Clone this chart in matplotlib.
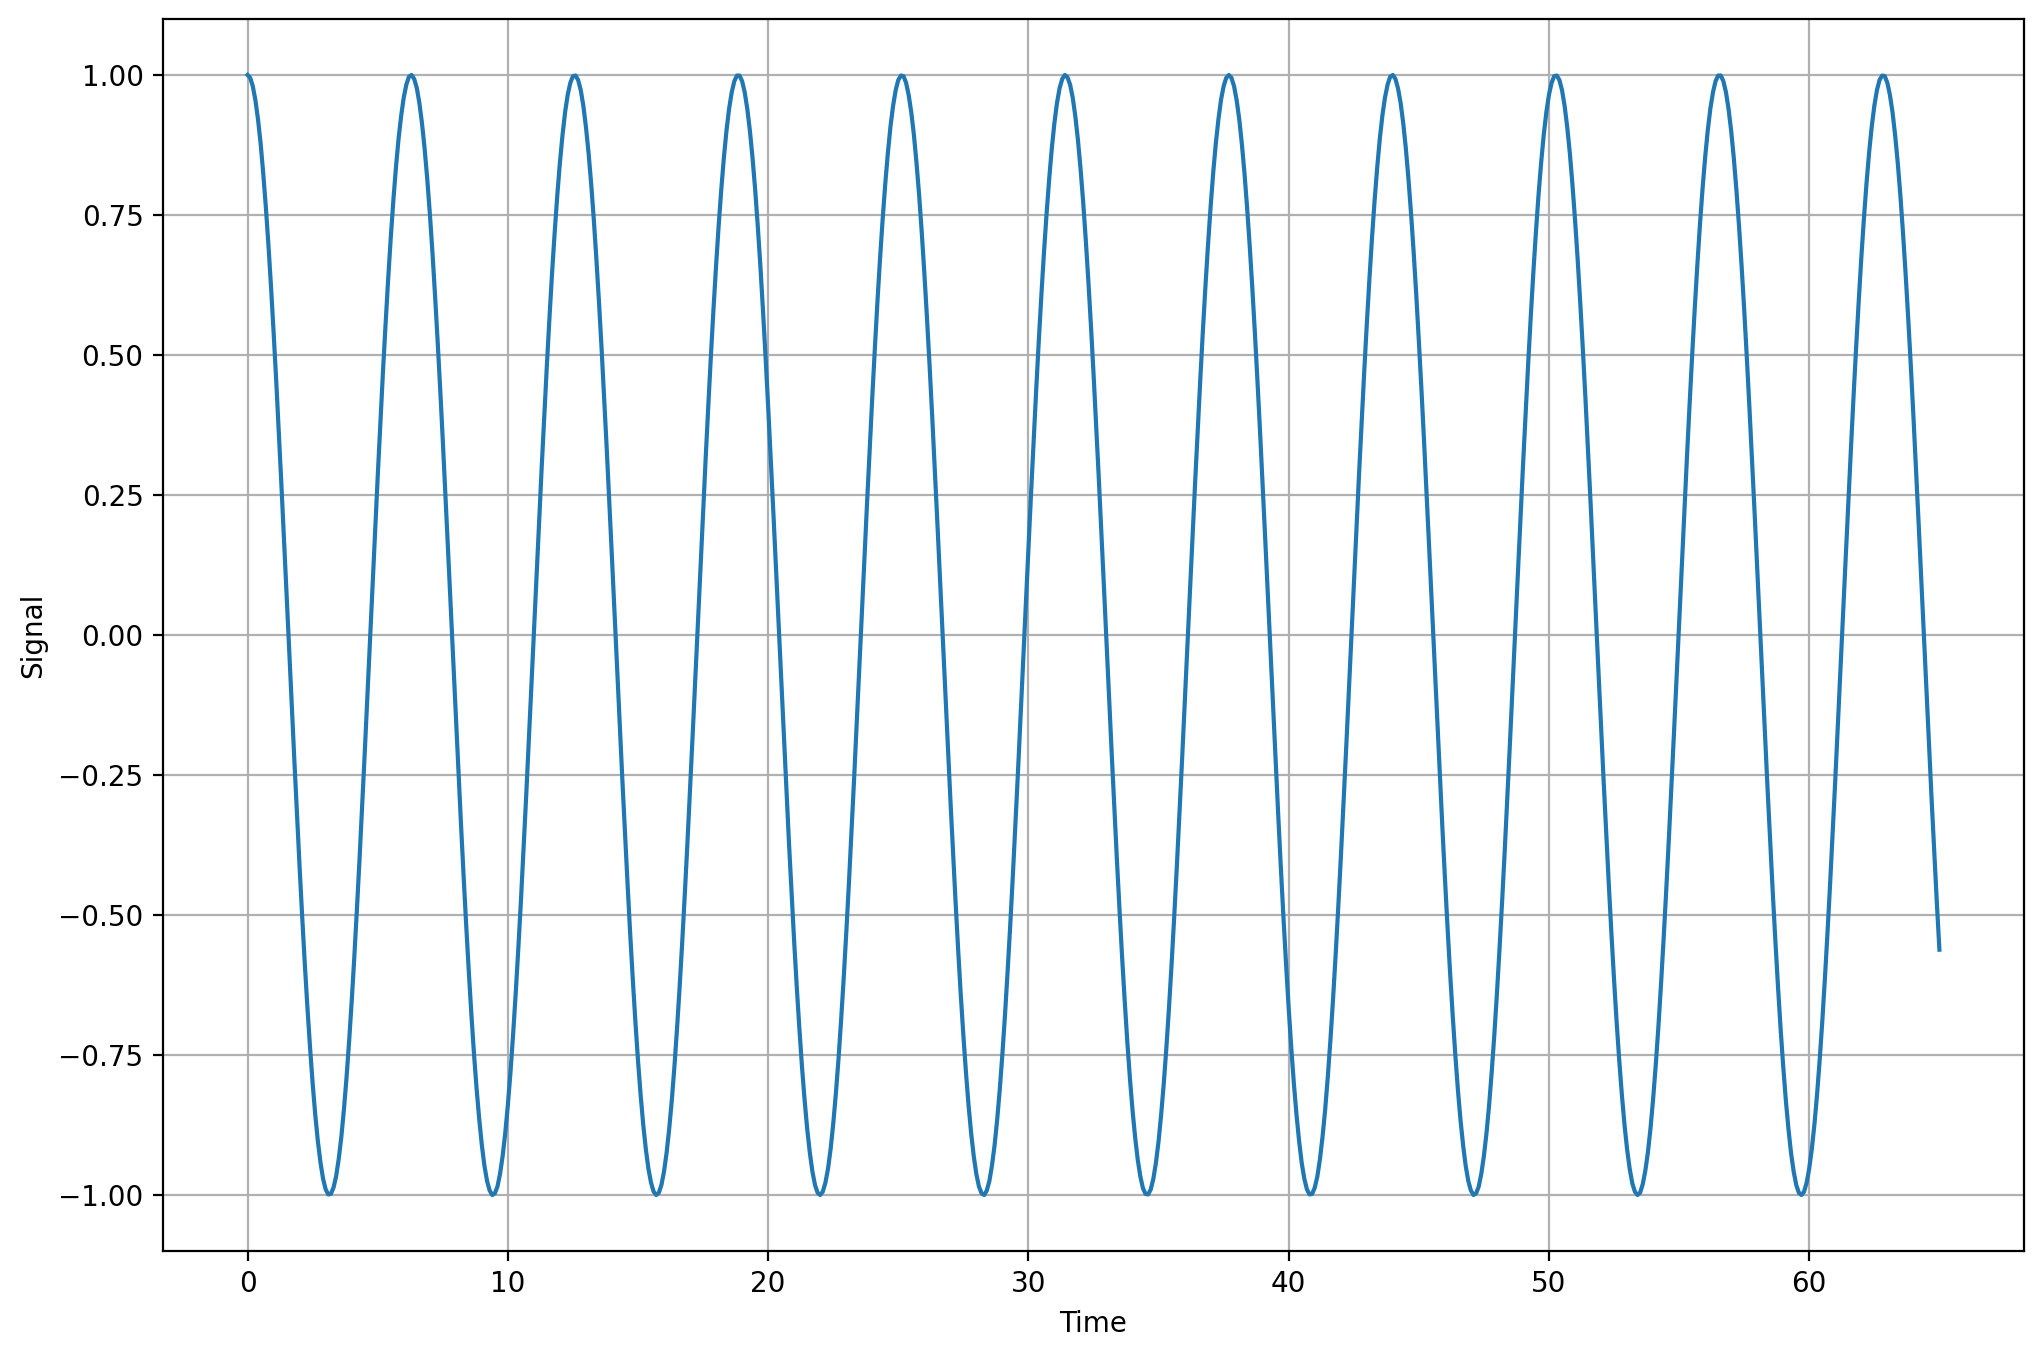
import numpy as np
import matplotlib
matplotlib.use("Agg")
import matplotlib.pyplot as plt

# Time axis: samples every 0.1 from 0 to 65
time_values = np.round(np.arange(0, 65.0001, 0.1), 1)

# Signal values (one per time sample)
signal_values = [
    1.000, 0.995, 0.980, 0.955, 0.921, 0.878, 0.825, 0.765, 0.697, 0.622, 0.540, 0.454, 0.362, 0.267, 0.170, 0.071, -0.029, -0.129, -0.227, -0.323,
    -0.416, -0.505, -0.589, -0.666, -0.737, -0.801, -0.857, -0.904, -0.942, -0.971, -0.990, -0.999, -0.998, -0.987, -0.967, -0.936, -0.897, -0.848, -0.791, -0.726,
    -0.654, -0.575, -0.490, -0.401, -0.307, -0.211, -0.112, -0.012, 0.087, 0.187, 0.284, 0.378, 0.469, 0.554, 0.635, 0.709, 0.776, 0.835, 0.886, 0.927,
    0.960, 0.983, 0.997, 1.000, 0.993, 0.977, 0.950, 0.914, 0.869, 0.816, 0.754, 0.685, 0.608, 0.526, 0.439, 0.347, 0.251, 0.153, 0.054, -0.046,
    -0.146, -0.244, -0.339, -0.431, -0.519, -0.602, -0.679, -0.749, -0.811, -0.865, -0.911, -0.948, -0.975, -0.992, -1.000, -0.997, -0.985, -0.962, -0.930, -0.889,
    -0.839, -0.781, -0.714, -0.641, -0.561, -0.476, -0.385, -0.291, -0.194, -0.095, 0.004, 0.104, 0.203, 0.300, 0.393, 0.483, 0.568, 0.648, 0.720, 0.786,
    0.844, 0.893, 0.934, 0.965, 0.986, 0.998, 0.999, 0.991, 0.973, 0.945, 0.907, 0.861, 0.806, 0.743, 0.672, 0.595, 0.512, 0.423, 0.331, 0.235,
    0.137, 0.037, -0.063, -0.162, -0.260, -0.355, -0.446, -0.534, -0.615, -0.691, -0.760, -0.821, -0.874, -0.918, -0.953, -0.978, -0.994, -1.000, -0.996, -0.982,
    -0.958, -0.924, -0.881, -0.830, -0.770, -0.702, -0.628, -0.547, -0.461, -0.370, -0.275, -0.178, -0.079, 0.021, 0.121, 0.219, 0.316, 0.409, 0.498, 0.582,
    0.660, 0.732, 0.796, 0.853, 0.901, 0.940, 0.969, 0.989, 0.999, 0.999, 0.989, 0.969, 0.939, 0.900, 0.852, 0.796, 0.731, 0.660, 0.581, 0.497,
    0.408, 0.315, 0.219, 0.120, 0.020, -0.080, -0.179, -0.276, -0.371, -0.461, -0.548, -0.629, -0.703, -0.771, -0.830, -0.882, -0.924, -0.958, -0.982, -0.996,
    -1.000, -0.994, -0.978, -0.953, -0.918, -0.873, -0.820, -0.759, -0.690, -0.615, -0.533, -0.446, -0.354, -0.259, -0.161, -0.062, 0.038, 0.138, 0.236, 0.332,
    0.424, 0.512, 0.596, 0.673, 0.743, 0.806, 0.861, 0.908, 0.945, 0.973, 0.991, 0.999, 0.998, 0.986, 0.964, 0.933, 0.893, 0.843, 0.786, 0.720,
    0.647, 0.568, 0.483, 0.393, 0.299, 0.202, 0.103, 0.004, -0.096, -0.195, -0.292, -0.386, -0.476, -0.562, -0.642, -0.715, -0.781, -0.840, -0.890, -0.931,
    -0.963, -0.985, -0.997, -1.000, -0.992, -0.975, -0.947, -0.911, -0.865, -0.811, -0.748, -0.678, -0.601, -0.519, -0.431, -0.338, -0.243, -0.145, -0.045, 0.055,
    0.154, 0.252, 0.347, 0.439, 0.527, 0.609, 0.685, 0.754, 0.816, 0.870, 0.915, 0.951, 0.977, 0.993, 1.000, 0.996, 0.983, 0.960, 0.927, 0.885,
    0.834, 0.775, 0.708, 0.634, 0.554, 0.468, 0.377, 0.283, 0.186, 0.087, -0.013, -0.113, -0.212, -0.308, -0.402, -0.491, -0.576, -0.654, -0.727, -0.792,
    -0.849, -0.897, -0.937, -0.967, -0.988, -0.998, -0.999, -0.990, -0.971, -0.942, -0.904, -0.856, -0.801, -0.737, -0.666, -0.588, -0.504, -0.415, -0.322, -0.226,
    -0.128, -0.028, 0.072, 0.171, 0.268, 0.363, 0.454, 0.541, 0.622, 0.697, 0.765, 0.826, 0.878, 0.921, 0.956, 0.980, 0.995, 1.000, 0.995, 0.980,
    0.955, 0.921, 0.877, 0.825, 0.764, 0.696, 0.621, 0.540, 0.453, 0.362, 0.267, 0.169, 0.070, -0.030, -0.130, -0.228, -0.324, -0.417, -0.506, -0.589,
    -0.667, -0.738, -0.802, -0.857, -0.904, -0.943, -0.971, -0.990, -0.999, -0.998, -0.987, -0.967, -0.936, -0.896, -0.848, -0.790, -0.725, -0.653, -0.574, -0.489,
    -0.400, -0.306, -0.210, -0.111, -0.012, 0.088, 0.187, 0.285, 0.379, 0.469, 0.555, 0.635, 0.709, 0.776, 0.835, 0.886, 0.928, 0.960, 0.983, 0.997,
    1.000, 0.993, 0.976, 0.950, 0.914, 0.869, 0.815, 0.753, 0.684, 0.608, 0.525, 0.438, 0.346, 0.250, 0.152, 0.053, -0.047, -0.146, -0.244, -0.340,
    -0.432, -0.520, -0.603, -0.679, -0.749, -0.812, -0.866, -0.911, -0.948, -0.975, -0.992, -1.000, -0.997, -0.985, -0.962, -0.930, -0.889, -0.839, -0.780, -0.714,
    -0.640, -0.560, -0.475, -0.385, -0.290, -0.193, -0.095, 0.005, 0.105, 0.204, 0.301, 0.394, 0.484, 0.569, 0.648, 0.721, 0.787, 0.844, 0.894, 0.934,
    0.965, 0.986, 0.998, 0.999, 0.991, 0.973, 0.945, 0.907, 0.861, 0.805, 0.742, 0.672, 0.594, 0.511, 0.423, 0.330, 0.234, 0.136, 0.036, -0.064,
    -0.163, -0.261, -0.356, -0.447, -0.534, -0.616, -0.692, -0.760, -0.821, -0.874, -0.918, -0.953, -0.979, -0.994, -1.000, -0.996, -0.981, -0.957, -0.924, -0.881,
    -0.829, -0.769, -0.702, -0.627, -0.546, -0.460, -0.369, -0.274, -0.177, -0.078, 0.022, 0.122, 0.220, 0.317, 0.410, 0.499, 0.583, 0.661, 0.733, 0.797,
    0.853, 0.901, 0.940, 0.969, 0.989, 0.999, 0.999, 0.989, 0.969, 0.939, 0.900, 0.852, 0.795, 0.731, 0.659, 0.581, 0.496, 0.407, 0.314, 0.218,
    0.119, 0.019, -0.080, -0.180, -0.277, -0.371, -0.462, -0.548, -0.629, -0.704, -0.771, -0.831, -0.882, -0.925, -0.958, -0.982, -0.996, -1.000, -0.994, -0.978,
    -0.952, -0.917, -0.873, -0.820, -0.759, -0.690, -0.614, -0.532, -0.445, -0.353, -0.258, -0.160, -0.061, 0.039, 0.138, 0.237, 0.332, 0.425, 0.513, 0.596,
    0.674, 0.744, 0.807, 0.862, 0.908, 0.945, 0.973, 0.991, 0.999, 0.998, 0.986, 0.964, 0.933, 0.892, 0.843, 0.785, 0.719, 0.646, 0.567, 0.482,
    0.392, 0.298, 0.201, 0.102, 0.003, -0.097, -0.196, -0.293, -0.387, -0.477, -0.562,
]

x_label = "Time"
y_label = "Signal"

W, H, DPI = 2043, 1358, 200
fig = plt.figure(figsize=(W / DPI, H / DPI), dpi=DPI)
ax = fig.add_axes([163 / W, (H - 1251) / H, (2024 - 163) / W, (1251 - 19) / H])

ax.plot(time_values, signal_values, color="#1f77b4", linewidth=1.5)
ax.set_xlabel(x_label)
ax.set_ylabel(y_label)
ax.grid(True)

fig.savefig("out.png", dpi=DPI)
